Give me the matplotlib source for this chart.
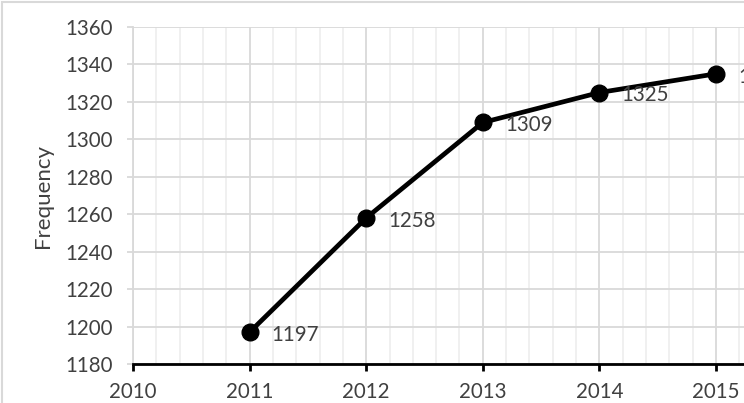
import matplotlib.pyplot as plt
from matplotlib.patches import Rectangle
from matplotlib.ticker import MultipleLocator

years = [2011, 2012, 2013, 2014, 2015]
frequency = [1197, 1258, 1309, 1325, 1335]

TEXT = "#404040"
FS = 14.8
plt.rcParams["font.family"] = ["Lato", "DejaVu Sans"]

W, H = 744, 403
fig = plt.figure(figsize=(W / 100, H / 100), dpi=100)

# plot area runs past the right edge of the picture (the original is cropped)
px_year = (716 - 133) / 5
ax = fig.add_axes([133 / W, 39 / H, 6 * px_year / W, 337 / H])
ax.set_xlim(2010, 2016)
ax.set_ylim(1180, 1360)

ax.xaxis.set_major_locator(MultipleLocator(1))
ax.xaxis.set_minor_locator(MultipleLocator(0.2))
ax.yaxis.set_major_locator(MultipleLocator(20))

ax.grid(which="major", color="#d9d9d9", linewidth=1.3)
ax.grid(which="minor", axis="x", color="#efefef", linewidth=1.3)
ax.set_axisbelow(True)

for side in ("top", "right"):
    ax.spines[side].set_visible(False)
ax.spines["left"].set_color("#d9d9d9")
ax.spines["left"].set_linewidth(1.3)
ax.spines["bottom"].set_color("black")
ax.spines["bottom"].set_linewidth(2)

ax.tick_params(axis="x", which="major", length=5, width=2, color="black",
               labelsize=FS, labelcolor=TEXT, pad=8)
ax.tick_params(axis="x", which="minor", length=0)
ax.tick_params(axis="y", length=4.3, width=1.3, color="#d9d9d9",
               labelsize=FS, labelcolor=TEXT, pad=10)

ax.plot(years, frequency, color="black", linewidth=3.4, marker="o",
        markersize=12, clip_on=False, zorder=3)

for x, y in zip(years, frequency):
    ax.annotate(str(y), (x, y), xytext=(16, -2), textcoords="offset points",
                ha="left", va="center", fontsize=FS, color=TEXT,
                annotation_clip=False, zorder=4)

ax.set_ylabel("Frequency", fontsize=16, color=TEXT)
ax.yaxis.set_label_coords(-80 / (6 * px_year), 0.5)

fig.patches.append(Rectangle((1.5 / W, -0.5), 1.2, 1.5 - 1.5 / H,
                             transform=fig.transFigure, fill=False,
                             edgecolor="#d9d9d9", linewidth=1.5))

fig.savefig("out.png", dpi=100)
